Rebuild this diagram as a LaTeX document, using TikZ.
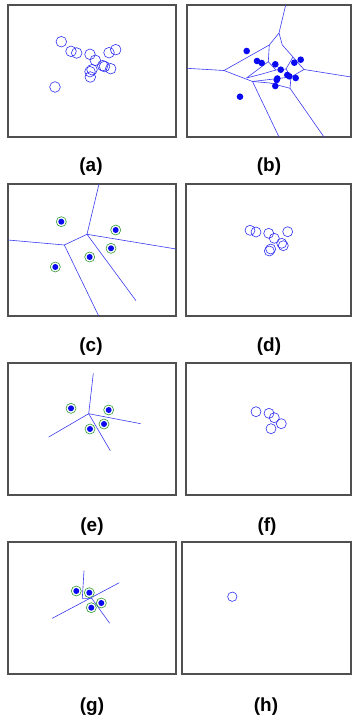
\documentclass[tikz,border=0pt]{standalone}
\usepackage{fontspec}
\setmainfont{Liberation Sans}
\usepackage{xcolor}
\usepackage{tikz}
\usetikzlibrary{calc}
\definecolor{siteblue}{HTML}{0A0AF0}
\definecolor{ringgreen}{HTML}{2E9A2E}
\definecolor{edgeblue}{HTML}{3A3AF2}
\definecolor{framegrey}{HTML}{505050}

\begin{document}
\begin{tikzpicture}[x=1bp, y=-1bp,
    panel/.style={draw=framegrey, line width=1.3bp},
    hollow/.style={draw=siteblue!85, line width=0.6bp},
    edge/.style={draw=edgeblue, line width=0.6bp},
    caption/.style={font=\fontsize{19}{22}\selectfont\bfseries, inner sep=0pt}
]
\useasboundingbox (0,0) rectangle (353,720);

% (a) raw points
\draw[panel] (8,5) rectangle (176,137);
\foreach \px/\py in {61.3/41.7, 71/51.3, 76.7/53, 90/54.3, 95.3/60.3, 109/52.7, 115.7/49.7,
    102.7/65.7, 104.5/66.5, 110.7/68.7, 92/69.7, 90/71.7, 90.3/77, 55/87}
  \draw[hollow] (\px,\py) circle[radius=5.3bp];
\node[caption] (cap-a) at (91,167) {(a)};

% (b) Voronoi of all points
\draw[panel] (187,5) rectangle (351,137);
\coordinate (vT) at (285.7,5);
\coordinate (vA) at (279,33);
\coordinate (vP) at (269.3,45);
\coordinate (vQ) at (282.3,45);
\coordinate (vB) at (224,70.5);
\coordinate (vL) at (187,68.3);
\coordinate (vC) at (252.5,81.5);
\coordinate (vD) at (268.3,61.7);
\coordinate (vE) at (246.5,78);
\coordinate (vH) at (293,57);
\coordinate (vG) at (304,69.5);
\coordinate (vR) at (351,77);
\coordinate (vF) at (290,88.3);
\coordinate (vK) at (286,69);
\coordinate (vM) at (291,77);
\draw[edge] (vT) -- (vA) -- (vP) -- (vB) -- (vL);
\draw[edge] (vA) -- (vQ) -- (vH) -- (vG) -- (vR);
\draw[edge] (vB) -- (vC) -- (279,137);
\draw[edge] (vP) -- (vD) -- (vE);
\draw[edge] (vD) -- (276,70) -- (vK) -- (vH);
\draw[edge] (vC) -- (vM) -- (vG);
\draw[edge] (vK) -- (vM);
\draw[edge] (vE) -- (262,74) -- (276,70);
\draw[edge] (vM) -- (vF) -- (324,137);
\draw[edge] (vC) -- (270,83) -- (vF);
\foreach \px/\py in {246.7/51, 257/61, 261.7/63, 275.3/64.3, 280.7/69.7, 294.3/62.7, 300.7/59.7,
    287.3/75, 289.3/76.3, 295.7/78, 276.7/80, 277.3/78.5, 275.3/86, 240/96.7}
  \fill[siteblue] (\px,\py) circle[radius=3.3bp];
\node[caption] (cap-b) at (269,167) {(b)};

% (c) selected sites
\draw[panel] (8,184) rectangle (176,316);
\coordinate (cA) at (87,234.3);
\coordinate (cB) at (64.3,245);
\draw[edge] (99,184) -- (cA) -- (cB) -- (8,240);
\draw[edge] (cB) -- (98.7,316);
\draw[edge] (cA) -- (176,249);
\draw[edge] (cA) -- (136,300.7);
\foreach \px/\py in {61.3/221.7, 115.7/230, 111/248.3, 89.7/257, 55.3/267} {
  \draw[ringgreen, line width=0.6bp] (\px,\py) circle[radius=5bp];
  \fill[siteblue] (\px,\py) circle[radius=3bp];
}
\node[caption] (cap-c) at (91,347) {(c)};

% (d)
\draw[panel] (186,184) rectangle (351,316);
\foreach \px/\py in {250/230.3, 256/232, 268.7/233.3, 274.3/238.3, 287.7/231.7,
    281.7/243.3, 283.3/245.7, 270.7/249, 269.3/251}
  \draw[hollow] (\px,\py) circle[radius=5bp];
\node[caption] (cap-d) at (269,347) {(d)};

% (e)
\draw[panel] (8,363) rectangle (176,495);
\coordinate (eA) at (88.7,413.7);
\draw[edge] (93.3,373.3) -- (eA) -- (48.7,437);
\draw[edge] (eA) -- (140.7,423.7);
\draw[edge] (eA) -- (110.3,450.7);
\foreach \px/\py in {71/408.3, 108.7/410, 104/424, 90/429} {
  \draw[ringgreen, line width=0.6bp] (\px,\py) circle[radius=5bp];
  \fill[siteblue] (\px,\py) circle[radius=3bp];
}
\node[caption] (cap-e) at (92,527) {(e)};

% (f)
\draw[panel] (186,363) rectangle (351,495);
\foreach \px/\py in {256/411.7, 269/413.3, 274.3/417.7, 281.3/423.7, 271/428.7}
  \draw[hollow] (\px,\py) circle[radius=5bp];
\node[caption] (cap-f) at (267,527) {(f)};

% (g)
\draw[panel] (8,542) rectangle (176,674);
\coordinate (gA) at (82.3,598.3);
\coordinate (gB) at (91.7,598.3);
\draw[edge] (84,570.7) -- (gA) -- (gB) -- (109.7,623.3);
\draw[edge] (52.3,618.3) -- (119.3,582.7);
\foreach \px/\py in {76.3/591, 89.3/592.7, 101.3/603, 91.3/607.7} {
  \draw[ringgreen, line width=0.6bp] (\px,\py) circle[radius=5bp];
  \fill[siteblue] (\px,\py) circle[radius=3bp];
}
\node[caption] (cap-g) at (92,707) {(g)};

% (h)
\draw[panel] (182,542) rectangle (351,674);
\draw[hollow] (232.3,596.7) circle[radius=4.7bp];
\node[caption] (cap-h) at (266,707) {(h)};
\end{tikzpicture}
\end{document}
